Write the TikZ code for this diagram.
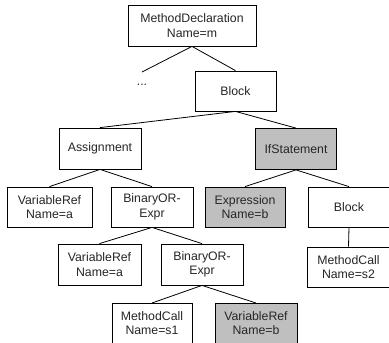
\documentclass[tikz,border=0pt]{standalone}
\usepackage{fontspec}
\setmainfont{Liberation Sans}
\begin{document}
\begin{tikzpicture}[x=1pt,y=-1pt,
  lbl/.style={font=\fontsize{12.3pt}{14.4pt}\selectfont,text=black!85,align=center,inner sep=0pt},
  box/.style={lbl,draw=black,line width=0.8pt,fill=white},
  hl/.style={box,fill=black!25},
  edge/.style={draw=black,line width=0.8pt}]
\useasboundingbox (0,0) rectangle (389,343);
\clip (0,0) rectangle (389,343);
% nodes: center x, center y
\node[box,minimum width=128pt,minimum height=41pt] (md) at (192,25.5) {MethodDeclaration\\Name=m};
\node[box,minimum width=81pt,minimum height=40pt] (blk1) at (235.5,91) {Block};
\node[box,minimum width=82pt,minimum height=41pt] (asg) at (100,148.5) {Assignment};
\node[hl,minimum width=81pt,minimum height=41pt] (ifs) at (296,149) {IfStatement};
\node[box,minimum width=85pt,minimum height=40pt] (vra) at (49.5,207) {VariableRef\\Name=a};
\node[box,minimum width=82pt,minimum height=40pt] (bor) at (152,207) {BinaryOR-\\Expr};
\node[hl,minimum width=80pt,minimum height=40pt] (expr) at (245,207) {Expression\\Name=b};
\node[box,minimum width=84pt,minimum height=40pt,anchor=west] (blk2) at (308,207) {};
\node[lbl] (blk2t) at (349,207) {Block};
\node[box,minimum width=83pt,minimum height=41pt] (vra2) at (99.5,264.5) {VariableRef\\Name=a};
\node[box,minimum width=82pt,minimum height=41pt] (bor2) at (202,264.5) {BinaryOR-\\Expr};
\node[box,minimum width=85pt,minimum height=40pt,anchor=west] (mcs2) at (307,267) {};
\node[lbl] (mcs2t) at (348.5,267) {MethodCall\\Name=s2};
\node[box,minimum width=80pt,minimum height=44pt,anchor=north] (mcs1) at (152,303) {};
\node[lbl] (mcs1t) at (152,323) {MethodCall\\Name=s1};
\node[hl,minimum width=82pt,minimum height=44pt,anchor=north] (vrb) at (256,303) {};
\node[lbl] (vrbt) at (256,323) {VariableRef\\Name=b};
\coordinate (dots) at (142,72);
\node[lbl] (dotst) at (142,85) {...};
% edges
\draw[edge] (md.south) -- (dots);
\draw[edge] (md.south) -- (blk1.north);
\draw[edge] (blk1.south) -- (asg.north);
\draw[edge] (blk1.south) -- (ifs.north);
\draw[edge] (asg.south) -- (vra.north);
\draw[edge] (asg.south) -- (bor.north);
\draw[edge] (ifs.south) -- (expr.north);
\draw[edge] (ifs.south) -- (blk2t.center |- blk2.north);
\draw[edge] (bor.south) -- (vra2.north);
\draw[edge] (bor.south) -- (bor2.north);
\draw[edge] (blk2t.center |- blk2.south) -- (mcs2t.center |- mcs2.north);
\draw[edge] (bor2.south) -- (mcs1.north);
\draw[edge] (bor2.south) -- (vrb.north);
\end{tikzpicture}
\end{document}
